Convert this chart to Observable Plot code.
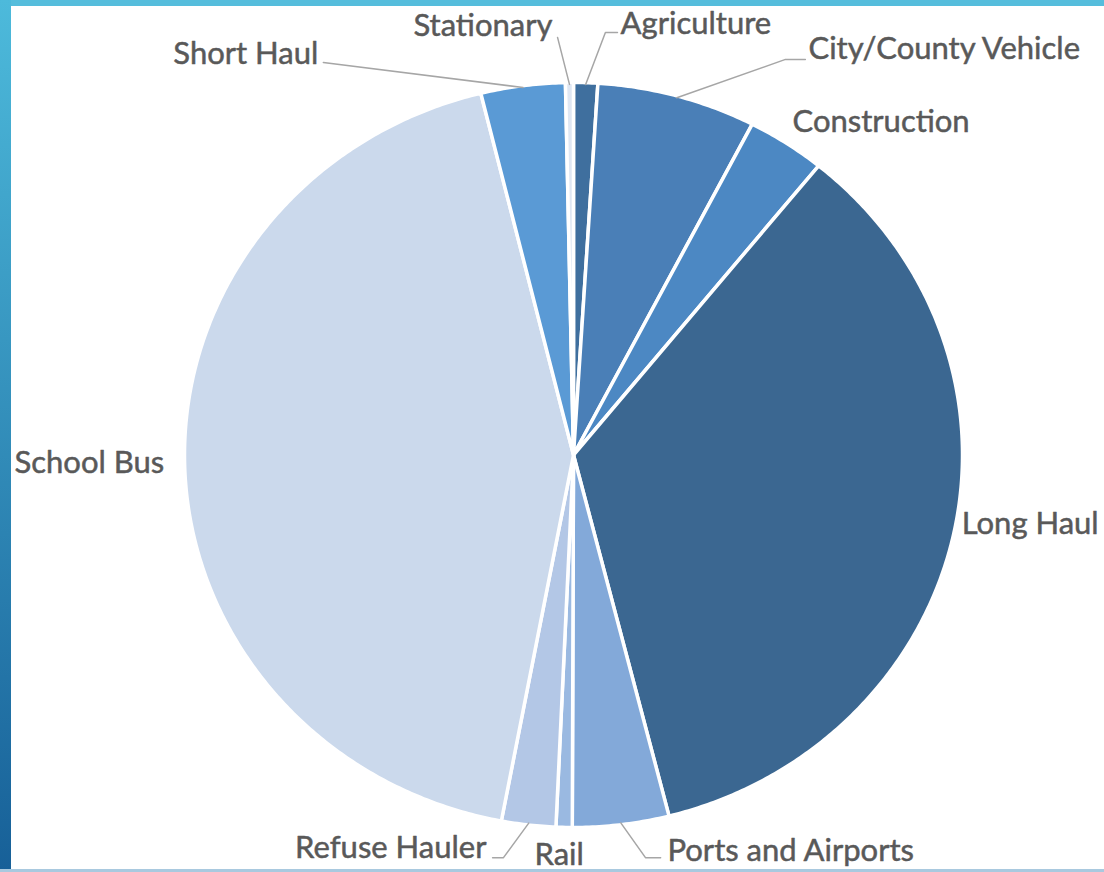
<!DOCTYPE html>
<html><head><meta charset="utf-8">
<script src="https://cdn.jsdelivr.net/npm/d3@7"></script>
<script src="https://cdn.jsdelivr.net/npm/@observablehq/plot@0.6"></script>
<style>
html,body{margin:0;padding:0;background:#fff;}
#wrap{position:relative;width:1104px;height:872px;overflow:hidden;}
#chart svg{display:block;}
#top{position:absolute;left:0;top:0;width:1104px;height:6px;background:#55bddc;}
#left{position:absolute;left:0;top:0;width:11px;height:872px;background:linear-gradient(#4dbadb,#176098);}
#bottom{position:absolute;left:0;bottom:0;width:1104px;height:3px;background:#a9c9df;}
</style></head>
<body><div id="wrap"><div id="chart"></div><div id="top"></div><div id="left"></div><div id="bottom"></div></div>
<script>
// ---- data ----
const categories = ["Agriculture","City/County Vehicle","Construction","Long Haul","Ports and Airports","Rail","Refuse Hauler","School Bus","Short Haul","Stationary"];
const shares = [1.0, 6.6, 3.25, 35.2, 4.0, 0.67, 2.25, 43.2, 3.5, 0.33];
const colors = ["#3f6f9e","#4a7fb7","#4c88c3","#3b6791","#83a9d9","#9ab9e1","#b3c7e6","#cbd9ec","#5a9ad5","#dfe7f3"];

// ---- label layout (unit-circle coordinates) ----
const labelLayout = {
  "Agriculture":        {x: 0.121, y: 1.156, anchor: "start", leader: [[0.082,1.134],[0.113,1.134]]},
  "City/County Vehicle":{x: 0.604, y: 1.089, anchor: "start", leader: [[0.545,1.062],[0.596,1.062]]},
  "Construction":       {x: 0.563, y: 0.895, anchor: "start"},
  "Long Haul":          {x: 0.998, y: -0.186, anchor: "start"},
  "Ports and Airports": {x: 0.2416, y: -1.0645, anchor: "start", leader: [[0.185,-1.081],[0.224,-1.081]]},
  "Rail":               {x: -0.1003, y: -1.0730, anchor: "start"},
  "Refuse Hauler":      {x: -0.2237, y: -1.0565, anchor: "end", leader: [[-0.18,-1.081],[-0.208,-1.081]]},
  "School Bus":         {x: -1.437, y: -0.0215, anchor: "start"},
  "Short Haul":         {x: -0.656, y: 1.075, anchor: "end", leader: [[-0.643,1.054]]},
  "Stationary":         {x: -0.054, y: 1.1505, anchor: "end", leader: [[-0.041,1.121]]}
};

// ---- build slices ----
const total = d3.sum(shares);
let acc = 0;
const slices = categories.map((c, i) => {
  const a0 = acc / total * 2 * Math.PI;
  acc += shares[i];
  const a1 = acc / total * 2 * Math.PI;
  return {category: c, color: colors[i], a0, a1, mid: (a0 + a1) / 2};
});
const polyPts = [];
for (const s of slices) {
  polyPts.push({category: s.category, color: s.color, x: 0, y: 0});
  const n = Math.max(2, Math.ceil((s.a1 - s.a0) / (Math.PI / 360)));
  for (let k = 0; k <= n; k++) {
    const t = s.a0 + (s.a1 - s.a0) * k / n;
    polyPts.push({category: s.category, color: s.color, x: Math.sin(t), y: Math.cos(t)});
  }
  polyPts.push({category: s.category, color: s.color, x: 0, y: 0});
}
const labels = slices.map(s => ({category: s.category, ...labelLayout[s.category]}));
const leaderPts = [];
for (const s of slices) {
  const L = labelLayout[s.category];
  if (!L.leader) continue;
  leaderPts.push({category: s.category, x: Math.sin(s.mid) * 0.995, y: Math.cos(s.mid) * 0.995});
  for (const p of L.leader) leaderPts.push({category: s.category, x: p[0], y: p[1]});
}

const textStyle = {x: "x", y: "y", text: "category", fontSize: 31, fill: "#595959", stroke: "#595959", strokeWidth: 0.5};
const chart = Plot.plot({
  width: 1104,
  height: 872,
  margin: 0,
  style: {background: "transparent", fontFamily: "Lato, sans-serif"},
  x: {domain: [-1, 1], range: [184, 962], axis: null},
  y: {domain: [-1, 1], range: [827, 82], axis: null},
  marks: [
    Plot.line(polyPts, {x: "x", y: "y", z: "category", fill: "color", stroke: "#ffffff", strokeWidth: 3.5, strokeLinejoin: "round", curve: "linear"}),
    Plot.line(leaderPts, {x: "x", y: "y", z: "category", stroke: "#a6a6a6", strokeWidth: 1.5, curve: "linear"}),
    Plot.text(labels.filter(d => d.anchor === "start"), {...textStyle, textAnchor: "start"}),
    Plot.text(labels.filter(d => d.anchor === "end"), {...textStyle, textAnchor: "end"})
  ]
});
document.getElementById("chart").appendChild(chart);
</script>
</body></html>
